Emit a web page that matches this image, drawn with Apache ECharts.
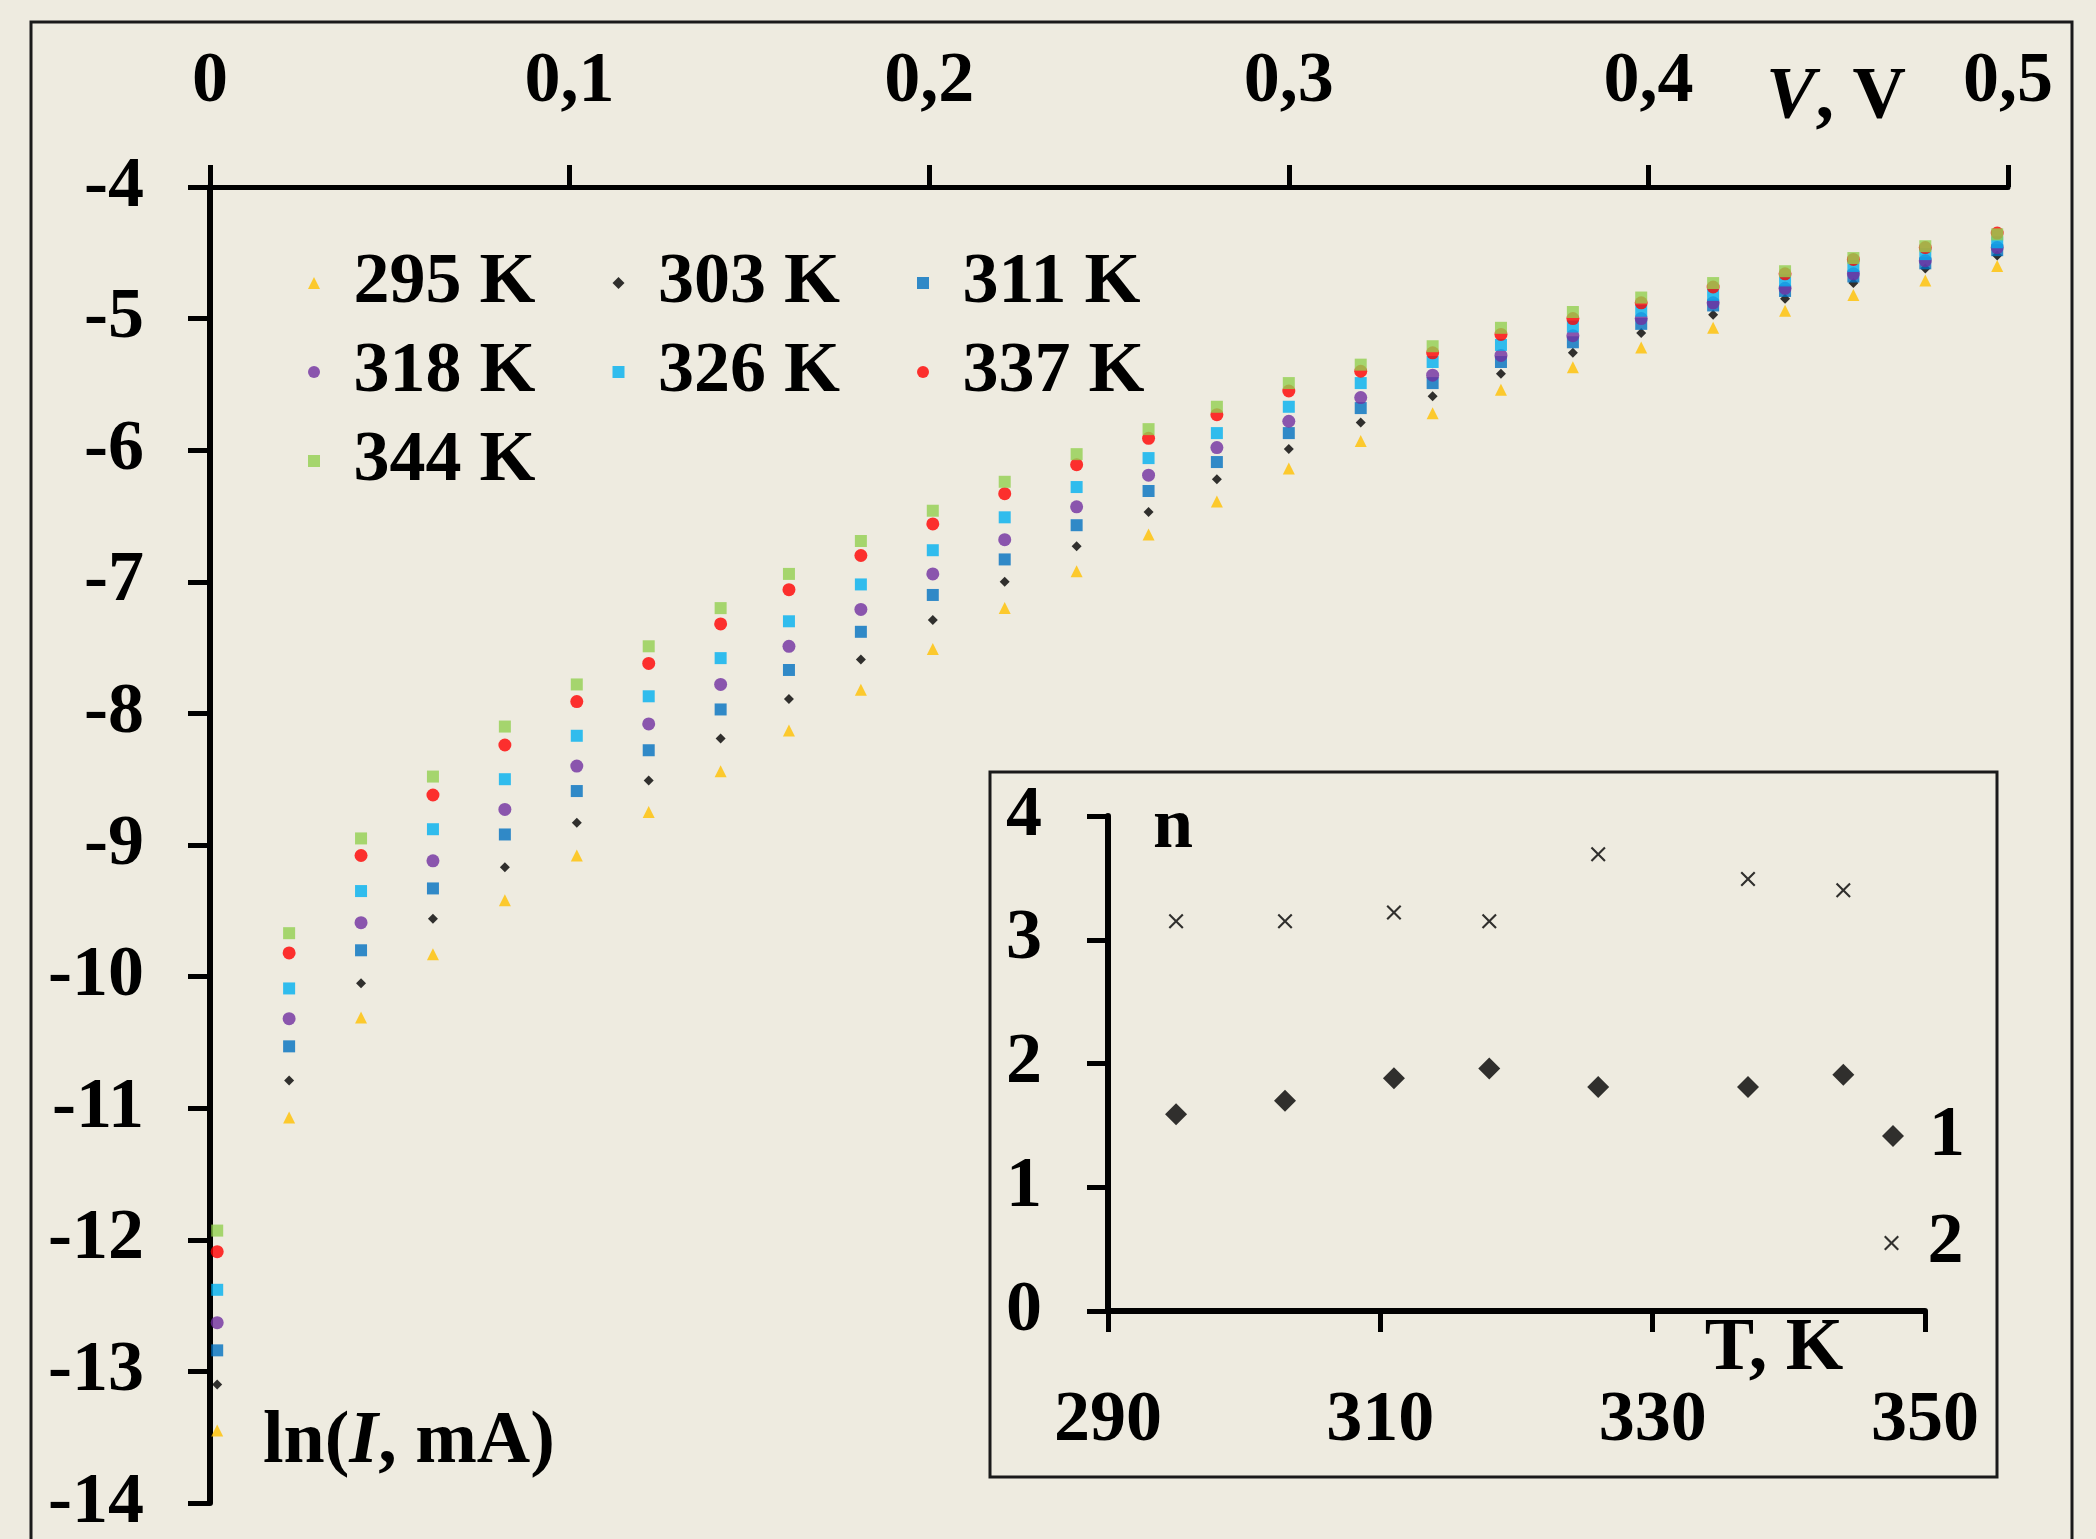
<!DOCTYPE html>
<html>
<head>
<meta charset="UTF-8">
<title>ln I - V</title>
<script src="https://cdn.jsdelivr.net/npm/echarts@6/dist/echarts.min.js"></script>
<style>
  html, body { margin: 0; padding: 0; background: #EEEBE0; }
  #chart { width: 2096px; height: 1539px; }
</style>
</head>
<body>
<div id="chart"></div>
<script>
// напряжение, V
var voltage = [0.002, 0.022, 0.042, 0.062, 0.082, 0.102, 0.122, 0.142, 0.161, 0.181, 0.201, 0.221, 0.241,
               0.261, 0.280, 0.300, 0.320, 0.340, 0.359, 0.379, 0.398, 0.418, 0.438, 0.457, 0.477, 0.497];

// ln(I, mA) для каждой температуры
var ln295 = [-13.45, -11.07, -10.31, -9.83, -9.42, -9.08, -8.75, -8.44, -8.13, -7.82, -7.51, -7.20, -6.92,
             -6.64, -6.39, -6.14, -5.93, -5.72, -5.54, -5.37, -5.22, -5.07, -4.94, -4.82, -4.71, -4.60];
var ln303 = [-13.10, -10.79, -10.05, -9.56, -9.17, -8.83, -8.51, -8.19, -7.89, -7.59, -7.29, -7.00, -6.73,
             -6.47, -6.22, -5.99, -5.79, -5.59, -5.42, -5.26, -5.11, -4.97, -4.85, -4.73, -4.62, -4.52];
var ln311 = [-12.84, -10.53, -9.80, -9.33, -8.92, -8.59, -8.28, -7.97, -7.67, -7.38, -7.10, -6.83, -6.57,
             -6.31, -6.09, -5.87, -5.68, -5.49, -5.33, -5.18, -5.04, -4.90, -4.79, -4.68, -4.58, -4.48];
var ln318 = [-12.63, -10.32, -9.59, -9.12, -8.73, -8.40, -8.08, -7.78, -7.49, -7.21, -6.94, -6.68, -6.43,
             -6.19, -5.98, -5.78, -5.60, -5.43, -5.28, -5.13, -5.00, -4.88, -4.77, -4.66, -4.56, -4.46];
var ln326 = [-12.38, -10.09, -9.35, -8.88, -8.50, -8.17, -7.87, -7.58, -7.30, -7.02, -6.76, -6.51, -6.28,
             -6.06, -5.87, -5.67, -5.49, -5.33, -5.20, -5.06, -4.94, -4.82, -4.71, -4.60, -4.51, -4.42];
var ln337 = [-12.09, -9.82, -9.08, -8.62, -8.24, -7.91, -7.62, -7.32, -7.06, -6.80, -6.56, -6.33, -6.11,
             -5.91, -5.73, -5.55, -5.40, -5.26, -5.12, -5.00, -4.88, -4.76, -4.66, -4.55, -4.46, -4.35];
var ln344 = [-11.93, -9.67, -8.95, -8.48, -8.10, -7.78, -7.49, -7.20, -6.94, -6.69, -6.46, -6.24, -6.03,
             -5.84, -5.67, -5.49, -5.35, -5.21, -5.07, -4.95, -4.84, -4.73, -4.64, -4.54, -4.45, -4.36];

var tempNames = ['295 K', '303 K', '311 K', '318 K', '326 K', '337 K', '344 K'];

// вставка: n от T
var insetT = [295, 303, 311, 318, 326, 337, 344];
var n1 = [1.59, 1.70, 1.88, 1.96, 1.81, 1.81, 1.91];
var n2 = [3.15, 3.15, 3.22, 3.15, 3.69, 3.49, 3.40];

var FONT = 'Liberation Serif';
// маркеры в виде path, чтобы в легенде не растягивались
var triPath = 'path://M5,0L10,10L0,10Z';
var diaPath = 'path://M5,0L10,5L5,10L0,5Z';
var sqPath = 'path://M0,0L10,0L10,10L0,10Z';
var crossPath = 'path://M0,1L1,0L5,4L9,0L10,1L6,5L10,9L9,10L5,6L1,10L0,9L4,5Z';

function pairs(xs, ys) {
    return xs.map(function (x, i) { return [x, ys[i]]; });
}

var mainSets = [
    { name: tempNames[0], data: ln295, color: '#FFC000', symbol: triPath, size: 12 },
    { name: tempNames[1], data: ln303, color: '#000000', symbol: diaPath, size: 10 },
    { name: tempNames[2], data: ln311, color: '#0070C0', symbol: sqPath, size: 12 },
    { name: tempNames[3], data: ln318, color: '#7030A0', symbol: 'circle', size: 13 },
    { name: tempNames[4], data: ln326, color: '#00B0F0', symbol: sqPath, size: 12 },
    { name: tempNames[5], data: ln337, color: '#FF0000', symbol: 'circle', size: 13 },
    { name: tempNames[6], data: ln344, color: '#92D050', symbol: sqPath, size: 12 }
];

var series = mainSets.map(function (s) {
    return {
        name: s.name,
        type: 'scatter',
        xAxisIndex: 0,
        yAxisIndex: 0,
        symbol: s.symbol,
        symbolSize: s.size,
        itemStyle: { color: s.color },
        data: pairs(voltage, s.data)
    };
});

series.push({
    name: '1', type: 'scatter', xAxisIndex: 1, yAxisIndex: 1,
    symbol: diaPath, symbolSize: 22,
    itemStyle: { color: '#000' },
    data: pairs(insetT, n1)
});
series.push({
    name: '2', type: 'scatter', xAxisIndex: 1, yAxisIndex: 1,
    symbol: crossPath, symbolSize: 15,
    itemStyle: { color: '#000' },
    data: pairs(insetT, n2)
});

var labelStyle = { fontFamily: FONT, fontWeight: 'bold', fontSize: 72, color: '#000' };

function mainLegend(names, top) {
    return {
        data: names,
        left: 308, top: top,
        padding: 0, symbolKeepAspect: true,
        itemWidth: 69, itemHeight: 12, itemGap: 77,
        textStyle: Object.assign({ lineHeight: 41 }, labelStyle)
    };
}

var chart = echarts.init(document.getElementById('chart'));
chart.setOption({
    backgroundColor: '#EEEBE0',
    animation: false,
    grid: [
        { left: 210, top: 187, width: 1798, height: 1322 },
        { left: 1108, top: 816, width: 817, height: 495 }
    ],
    xAxis: [{
        gridIndex: 0, type: 'value', position: 'top',
        min: 0, max: 0.5, interval: 0.1,
        splitLine: { show: false },
        axisLine: { lineStyle: { color: '#000', width: 5 } },
        axisTick: { length: 22, lineStyle: { color: '#000', width: 5 } },
        axisLabel: Object.assign({
            margin: 69,
            formatter: function (v) { return String(v).replace('.', ','); }
        }, labelStyle)
    }, {
        gridIndex: 1, type: 'value', position: 'bottom',
        min: 290, max: 350, interval: 20,
        splitLine: { show: false },
        axisLine: { onZero: false, lineStyle: { color: '#000', width: 6 } },
        axisTick: { length: 21, lineStyle: { color: '#000', width: 5 } },
        axisLabel: Object.assign({ margin: 74 }, labelStyle)
    }],
    yAxis: [{
        gridIndex: 0, type: 'value',
        min: -14, max: -4, interval: 1,
        splitLine: { show: false },
        axisLine: { show: true, onZero: false, lineStyle: { color: '#000', width: 6 } },
        axisTick: { show: true, length: 22, lineStyle: { color: '#000', width: 5 } },
        axisLabel: Object.assign({ margin: 66 }, labelStyle)
    }, {
        gridIndex: 1, type: 'value',
        min: 0, max: 4, interval: 1,
        splitLine: { show: false },
        axisLine: { show: true, onZero: false, lineStyle: { color: '#000', width: 6 } },
        axisTick: { show: true, length: 21, lineStyle: { color: '#000', width: 5 } },
        axisLabel: Object.assign({ margin: 66 }, labelStyle)
    }],
    legend: [
        mainLegend(tempNames.slice(0, 3), 247),
        mainLegend(tempNames.slice(3, 6), 336),
        mainLegend(tempNames.slice(6), 425),
        {
            data: ['1'],
            left: 1882, top: 1100, padding: 0, symbolKeepAspect: true,
            itemWidth: 62, itemHeight: 22,
            textStyle: Object.assign({ lineHeight: 60 }, labelStyle)
        }, {
            data: ['2'],
            left: 1884, top: 1207, padding: 0, symbolKeepAspect: true,
            itemWidth: 62, itemHeight: 15,
            textStyle: Object.assign({ lineHeight: 60 }, labelStyle)
        }
    ],
    graphic: [
        // рамки
        { type: 'rect', z: -1, shape: { x: 31, y: 22, width: 2041, height: 1600 },
          style: { fill: 'none', stroke: '#1a1a1a', lineWidth: 3 } },
        { type: 'rect', z: -1, shape: { x: 990, y: 772, width: 1007, height: 705 },
          style: { fill: 'none', stroke: '#1a1a1a', lineWidth: 3 } },
        // подписи осей
        { type: 'text', x: 1836, y: 99,
          style: { text: '{i|V}, V', align: 'center', verticalAlign: 'middle',
                   font: 'bold 74px "Liberation Serif"', fill: '#000',
                   rich: { i: { fontStyle: 'italic', fontWeight: 'bold', fontSize: 74, fontFamily: FONT } } } },
        { type: 'text', x: 263, y: 1443,
          style: { text: 'ln({i|I}, mA)', align: 'left', verticalAlign: 'middle',
                   font: 'bold 74px "Liberation Serif"', fill: '#000',
                   rich: { i: { fontStyle: 'italic', fontWeight: 'bold', fontSize: 74, fontFamily: FONT } } } },
        { type: 'text', x: 1153, y: 828,
          style: { text: 'n', align: 'left', verticalAlign: 'middle',
                   font: 'bold 72px "Liberation Serif"', fill: '#000' } },
        { type: 'text', x: 1774, y: 1350,
          style: { text: 'T, K', align: 'center', verticalAlign: 'middle',
                   font: 'bold 74px "Liberation Serif"', fill: '#000' } }
    ],
    series: series
});
</script>
</body>
</html>
